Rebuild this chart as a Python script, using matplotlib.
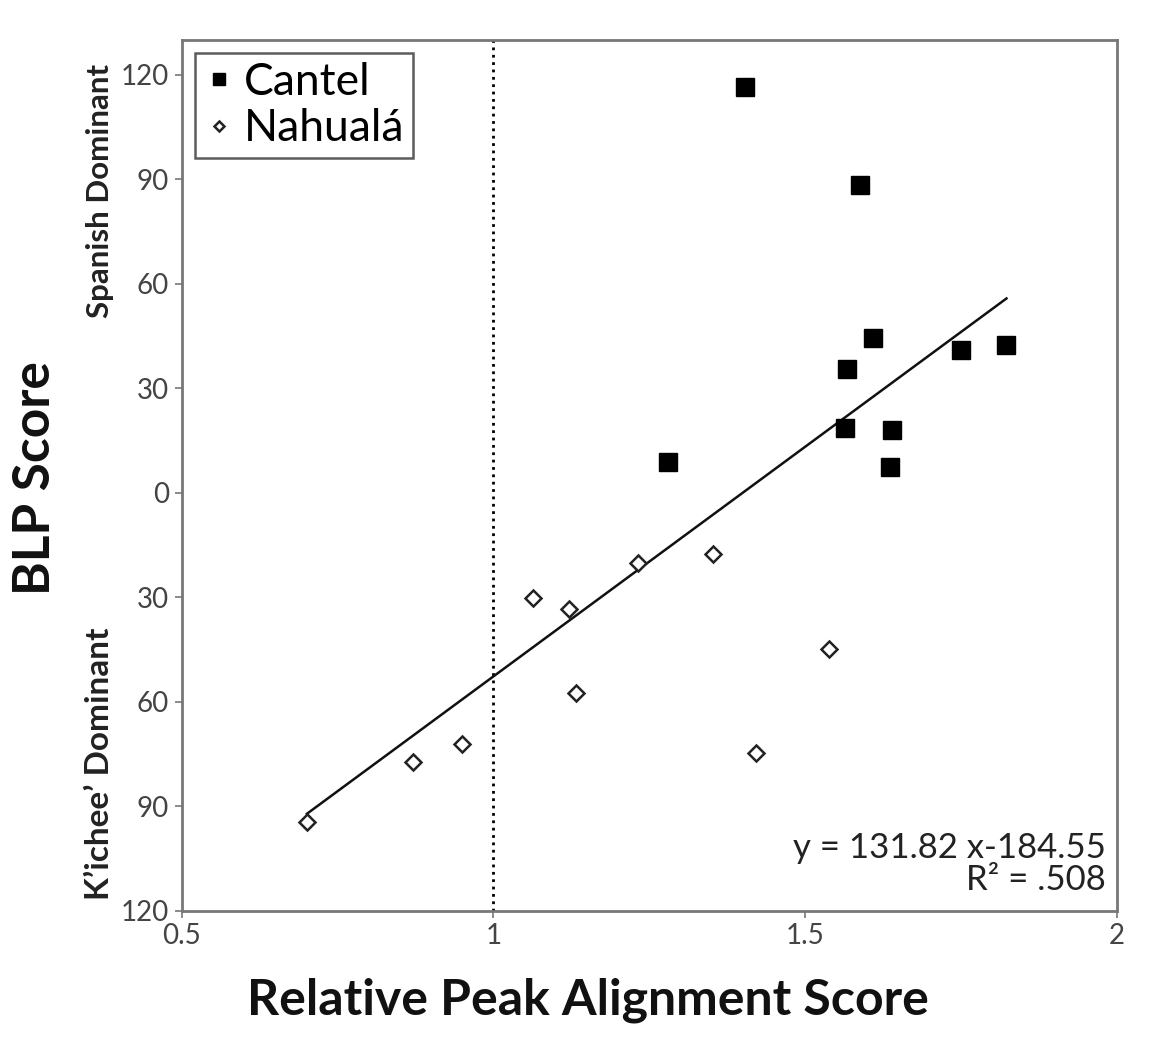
import numpy as np
import matplotlib.pyplot as plt

plt.rcParams['font.family'] = ['Lato', 'DejaVu Sans']

# Data

cantel_x = [1.404, 1.588, 1.609, 1.567, 1.750, 1.823, 1.564, 1.640, 1.636, 1.280]
cantel_y = [116.4, 88.2, 44.5, 35.6, 41.1, 42.5, 18.7, 18.1, 7.5, 8.9]

nahuala_x = [0.701, 0.871, 0.949, 1.063, 1.121, 1.132, 1.232, 1.352, 1.539, 1.421]
nahuala_y = [-94.5, -77.3, -72.1, -30.2, -33.3, -57.5, -20.1, -17.5, -44.8, -74.7]

slope = 131.82
intercept = -184.55

y_ticks = [120, 90, 60, 30, 0, -30, -60, -90, -120]
x_ticks = [0.5, 1, 1.5, 2]
x_tick_labels = ["0.5", "1", "1.5", "2"]


# Plot

fig = plt.figure(figsize=(11.49, 10.47), dpi=100)
ax = fig.add_axes([0.158, 0.130, 0.814, 0.832])

ax.plot(cantel_x, cantel_y, linestyle='none', marker='s', markersize=13,
        color='black', label='Cantel')
ax.plot(nahuala_x, nahuala_y, linestyle='none', marker='D', markersize=8.5,
        markerfacecolor='white', markeredgecolor='#222222', markeredgewidth=1.8,
        label='Nahualá')

# regression line over the data range
all_x = np.array(cantel_x + nahuala_x)
fit_x = np.array([all_x.min(), all_x.max()])
ax.plot(fit_x, slope * fit_x + intercept, color='#111111', linewidth=1.8, zorder=1)

ax.axvline(1, color='black', linestyle=':', linewidth=2, zorder=0)

ax.set_xlim(0.5, 2)
ax.set_ylim(-120, 130)
ax.set_xticks(x_ticks)
ax.set_xticklabels(x_tick_labels)
ax.set_yticks(y_ticks)
ax.set_yticklabels([str(abs(v)) for v in y_ticks])
ax.tick_params(labelsize=20, colors='#777777', labelcolor='#444444',
               length=5, width=1.2, pad=4)

for s in ax.spines.values():
    s.set_color('#777777')
    s.set_linewidth(2)

fig.text(0.512, 0.045, "Relative Peak Alignment Score", fontsize=36,
         fontweight='bold', ha='center', va='center', color='#111111')
fig.text(0.031, 0.543, "BLP Score", rotation=90, fontsize=37, fontweight='bold',
         ha='center', va='center', color='#111111')
fig.text(0.087, 0.818, "Spanish Dominant", rotation=90, fontsize=22.5,
         fontweight='bold', ha='center', va='center', color='#222222')
fig.text(0.087, 0.271, "K\u2019ichee\u2019 Dominant", rotation=90, fontsize=24,
         fontweight='bold', ha='center', va='center', color='#222222')

ax.text(0.988, 0.072, "y = 131.82 x-184.55", transform=ax.transAxes,
        fontsize=25, ha='right', va='center', color='#222222')
ax.text(0.988, 0.035, "R\u00b2 = .508", transform=ax.transAxes,
        fontsize=25, ha='right', va='center', color='#222222')

leg = ax.legend(loc='upper left', fontsize=32, frameon=True, fancybox=False,
                markerscale=0.65, handletextpad=0.2, handlelength=0.7,
                borderpad=0.2, labelspacing=0.12, borderaxespad=0.3)
leg.get_frame().set_edgecolor('#333333')
leg.get_frame().set_linewidth(1.8)

fig.savefig("out.png", dpi=100, facecolor='white')
